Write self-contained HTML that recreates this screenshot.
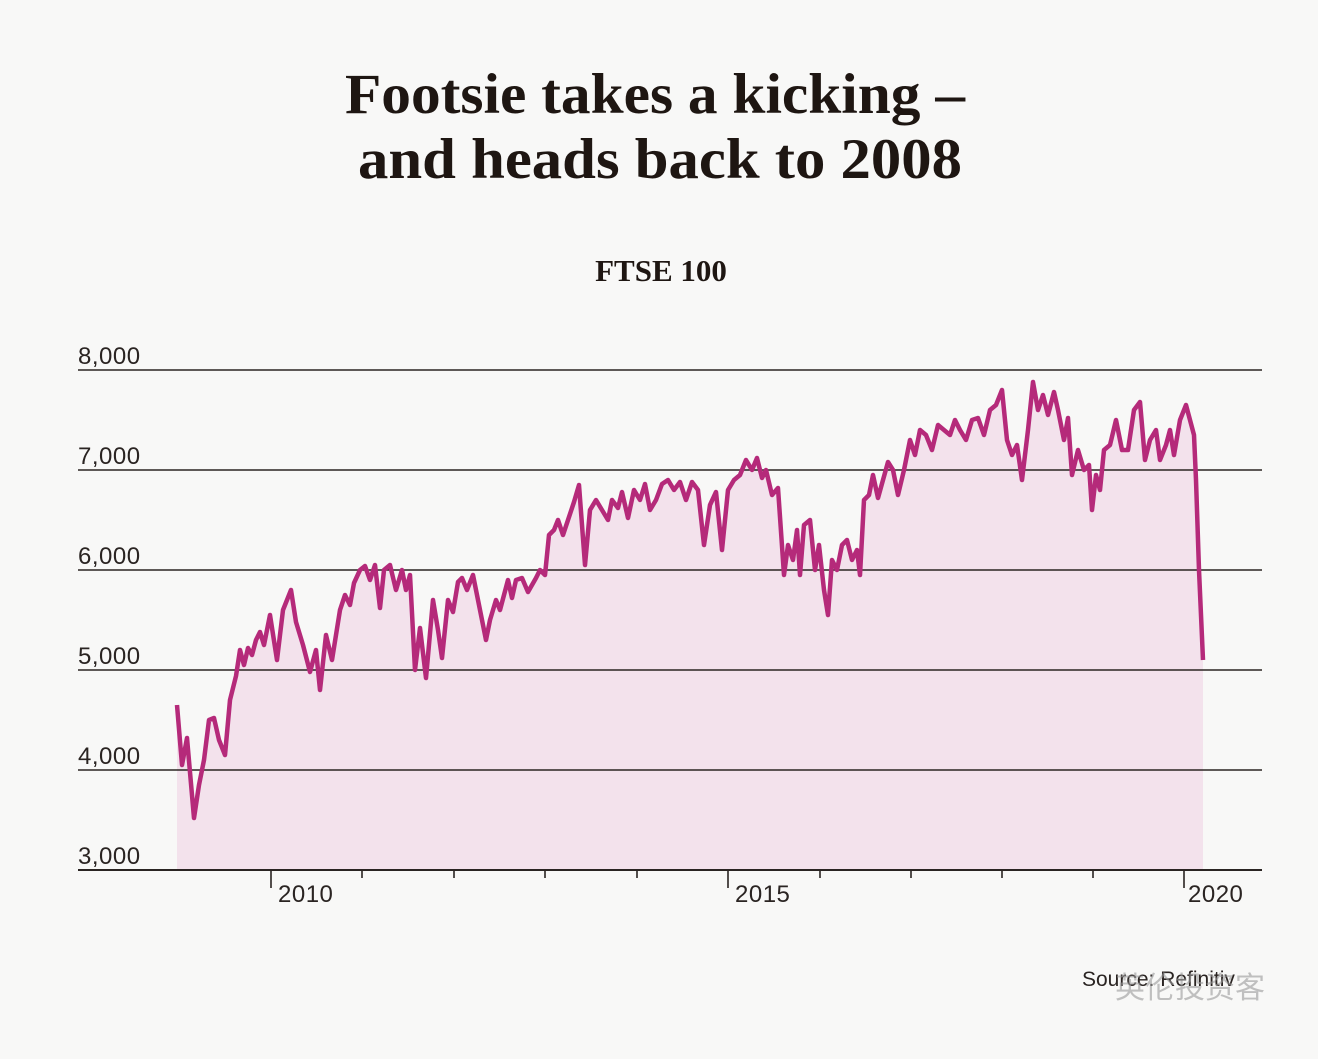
<!DOCTYPE html>
<html><head><meta charset="utf-8"><style>
html,body{margin:0;padding:0;background:#f8f8f7;}
</style></head><body>
<svg width="1318" height="1054" viewBox="0 0 1318 1054" xmlns="http://www.w3.org/2000/svg">
<rect width="1318" height="1054" fill="#f8f8f7"/>
<g font-family="Liberation Serif, serif" font-weight="bold" fill="#1e1612" text-anchor="middle">
<text x="655" y="113" font-size="57" textLength="620" lengthAdjust="spacingAndGlyphs">Footsie takes a kicking –</text>
<text x="660" y="178" font-size="57" textLength="604" lengthAdjust="spacingAndGlyphs">and heads back to 2008</text>
<text x="661" y="281" font-size="31">FTSE 100</text>
</g>
<polygon fill="#f3e2ec" points="177,870 177,705 182,765 187,738 194,818 199,785 204,760 209,720 214,718 219,740 225,755 230,700 236,676 240,650 244,665 248,648 252,655 256,640 260,632 264,645 270,615 277,660 283,610 291,590 296,622 303,645 310,672 316,650 320,690 326,635 332,660 340,610 345,595 350,605 354,583 360,570 365,566 370,580 375,565 380,608 384,570 390,565 396,590 402,570 406,590 410,575 415,670 420,628 426,678 433,600 438,630 442,658 448,600 453,612 458,582 462,578 467,590 473,575 480,610 486,640 490,620 496,600 500,610 504,595 508,580 512,598 516,580 522,578 528,592 532,585 536,578 540,570 545,575 549,535 554,530 558,520 563,535 568,520 574,502 579,485 585,565 590,510 596,500 602,510 608,520 612,500 618,508 622,492 628,518 634,490 640,500 645,484 650,510 656,500 662,484 668,480 674,490 680,482 686,500 692,482 698,490 704,545 710,505 716,492 722,550 728,490 734,480 740,475 746,460 752,470 757,458 762,478 766,470 772,495 778,488 784,575 788,545 793,560 797,530 800,575 804,525 810,520 815,570 819,545 824,590 828,615 832,560 837,570 842,545 847,540 852,560 857,550 860,575 864,500 869,495 873,475 878,498 883,480 888,462 893,470 898,495 904,470 910,440 915,455 920,430 926,435 932,450 938,425 944,430 950,435 955,420 960,430 966,440 972,420 978,418 984,435 990,410 996,405 1002,390 1007,440 1012,455 1017,445 1022,480 1028,430 1033,382 1038,410 1043,395 1048,415 1054,392 1058,410 1064,440 1068,418 1072,475 1078,450 1084,470 1089,465 1092,510 1096,475 1100,490 1104,450 1110,445 1116,420 1122,450 1128,450 1134,410 1140,402 1145,460 1150,440 1156,430 1160,460 1166,445 1170,430 1174,455 1180,420 1186,405 1190,420 1194,435 1196,480 1199,570 1203,660 1203,870"/>
<g stroke="#2a2422" stroke-width="1.6">
<line x1="78" y1="370" x2="1262" y2="370"/>
<line x1="78" y1="470" x2="1262" y2="470"/>
<line x1="78" y1="570" x2="1262" y2="570"/>
<line x1="78" y1="670" x2="1262" y2="670"/>
<line x1="78" y1="770" x2="1262" y2="770"/>
<line x1="78" y1="870" x2="1262" y2="870" stroke-width="2"/>
<path d="M271 870v18M362 870v8M454 870v8M545 870v8M637 870v8M728 870v18M820 870v8M911 870v8M1002 870v8M1093 870v8M1184 870v18"/>
</g>
<polyline fill="none" stroke="#b52a7a" stroke-width="4.5" stroke-linejoin="round" points="177,705 182,765 187,738 194,818 199,785 204,760 209,720 214,718 219,740 225,755 230,700 236,676 240,650 244,665 248,648 252,655 256,640 260,632 264,645 270,615 277,660 283,610 291,590 296,622 303,645 310,672 316,650 320,690 326,635 332,660 340,610 345,595 350,605 354,583 360,570 365,566 370,580 375,565 380,608 384,570 390,565 396,590 402,570 406,590 410,575 415,670 420,628 426,678 433,600 438,630 442,658 448,600 453,612 458,582 462,578 467,590 473,575 480,610 486,640 490,620 496,600 500,610 504,595 508,580 512,598 516,580 522,578 528,592 532,585 536,578 540,570 545,575 549,535 554,530 558,520 563,535 568,520 574,502 579,485 585,565 590,510 596,500 602,510 608,520 612,500 618,508 622,492 628,518 634,490 640,500 645,484 650,510 656,500 662,484 668,480 674,490 680,482 686,500 692,482 698,490 704,545 710,505 716,492 722,550 728,490 734,480 740,475 746,460 752,470 757,458 762,478 766,470 772,495 778,488 784,575 788,545 793,560 797,530 800,575 804,525 810,520 815,570 819,545 824,590 828,615 832,560 837,570 842,545 847,540 852,560 857,550 860,575 864,500 869,495 873,475 878,498 883,480 888,462 893,470 898,495 904,470 910,440 915,455 920,430 926,435 932,450 938,425 944,430 950,435 955,420 960,430 966,440 972,420 978,418 984,435 990,410 996,405 1002,390 1007,440 1012,455 1017,445 1022,480 1028,430 1033,382 1038,410 1043,395 1048,415 1054,392 1058,410 1064,440 1068,418 1072,475 1078,450 1084,470 1089,465 1092,510 1096,475 1100,490 1104,450 1110,445 1116,420 1122,450 1128,450 1134,410 1140,402 1145,460 1150,440 1156,430 1160,460 1166,445 1170,430 1174,455 1180,420 1186,405 1190,420 1194,435 1196,480 1199,570 1203,660"/>
<g font-family="Liberation Sans, sans-serif" font-size="24" fill="#2a2422" letter-spacing="0.5">
<text x="78" y="364">8,000</text>
<text x="78" y="464">7,000</text>
<text x="78" y="564">6,000</text>
<text x="78" y="664">5,000</text>
<text x="78" y="764">4,000</text>
<text x="78" y="864">3,000</text>
<text x="278" y="902">2010</text>
<text x="735" y="902">2015</text>
<text x="1188" y="902">2020</text>
<text x="1082" y="986" font-size="21" letter-spacing="0">Source: Refinitiv</text>
</g>
<text x="1115" y="998" font-family="Liberation Sans, 'Noto Sans CJK SC', sans-serif" font-size="30" fill="#9a9a9a" opacity="0.6">英伦投资客</text>
</svg>
</body></html>
